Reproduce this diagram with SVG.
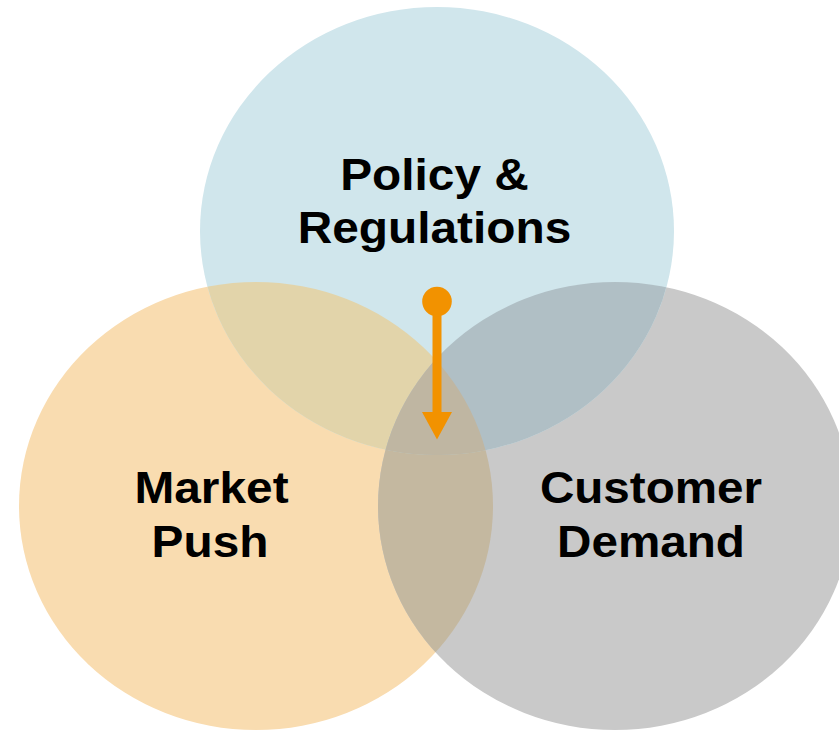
<svg xmlns="http://www.w3.org/2000/svg" width="839" height="731" viewBox="0 0 839 731">
  <style>
    .lbl { font-family: "Liberation Sans", Arial, sans-serif; font-weight: bold; font-size: 44.5px; fill: #000; text-anchor: middle; }
    .arrow { fill: none; stroke: #f29200; stroke-width: 9; }
  </style>
  <defs>
    <ellipse id="eT" cx="437" cy="231" rx="237" ry="224"/>
    <ellipse id="eL" cx="256" cy="506" rx="237" ry="224"/>
    <ellipse id="eR" cx="615" cy="506" rx="237" ry="224"/>
    <clipPath id="cL"><use href="#eL"/></clipPath>
    <clipPath id="cR"><use href="#eR"/></clipPath>
    <marker id="dot" markerUnits="userSpaceOnUse" viewBox="0 0 32 32" markerWidth="32" markerHeight="32" refX="16" refY="16" orient="auto">
      <circle cx="16" cy="16" r="14.8" fill="#f29200"/>
    </marker>
    <marker id="head" markerUnits="userSpaceOnUse" viewBox="0 0 28 30" markerWidth="28" markerHeight="30" refX="0" refY="15" orient="auto">
      <path d="M0,0 L27.5,15 L0,30 Z" fill="#f29200"/>
    </marker>
  </defs>
  <rect width="839" height="731" fill="#ffffff"/>

  <g id="node-market">
    <use href="#eL" fill="#f9dcb0"/>
  </g>
  <g id="node-customer">
    <use href="#eR" fill="#c9c9c9"/>
  </g>
  <g id="node-policy">
    <use href="#eT" fill="#d0e6ec"/>
  </g>

  <g id="overlaps">
    <use href="#eR" fill="#c4b8a0" clip-path="url(#cL)"/>
    <use href="#eT" fill="#e2d4aa" clip-path="url(#cL)"/>
    <use href="#eT" fill="#b0bfc5" clip-path="url(#cR)"/>
    <g clip-path="url(#cL)">
      <use href="#eT" fill="#bfb6a2" clip-path="url(#cR)"/>
    </g>
  </g>

  <g id="labels">
    <text class="lbl" transform="translate(434.5,189.5) scale(1.075,1)">Policy &amp;</text>
    <text class="lbl" transform="translate(434.5,243) scale(1.075,1)">Regulations</text>
    <text class="lbl" transform="translate(211.5,503) scale(1.075,1)">Market</text>
    <text class="lbl" transform="translate(210,557) scale(1.075,1)">Push</text>
    <text class="lbl" transform="translate(651,503) scale(1.07,1)">Customer</text>
    <text class="lbl" transform="translate(651,557) scale(1.07,1)">Demand</text>
  </g>

  <g id="connectors">
    <path class="arrow" d="M437,301.5 L437,412" marker-start="url(#dot)" marker-end="url(#head)"/>
  </g>
</svg>
